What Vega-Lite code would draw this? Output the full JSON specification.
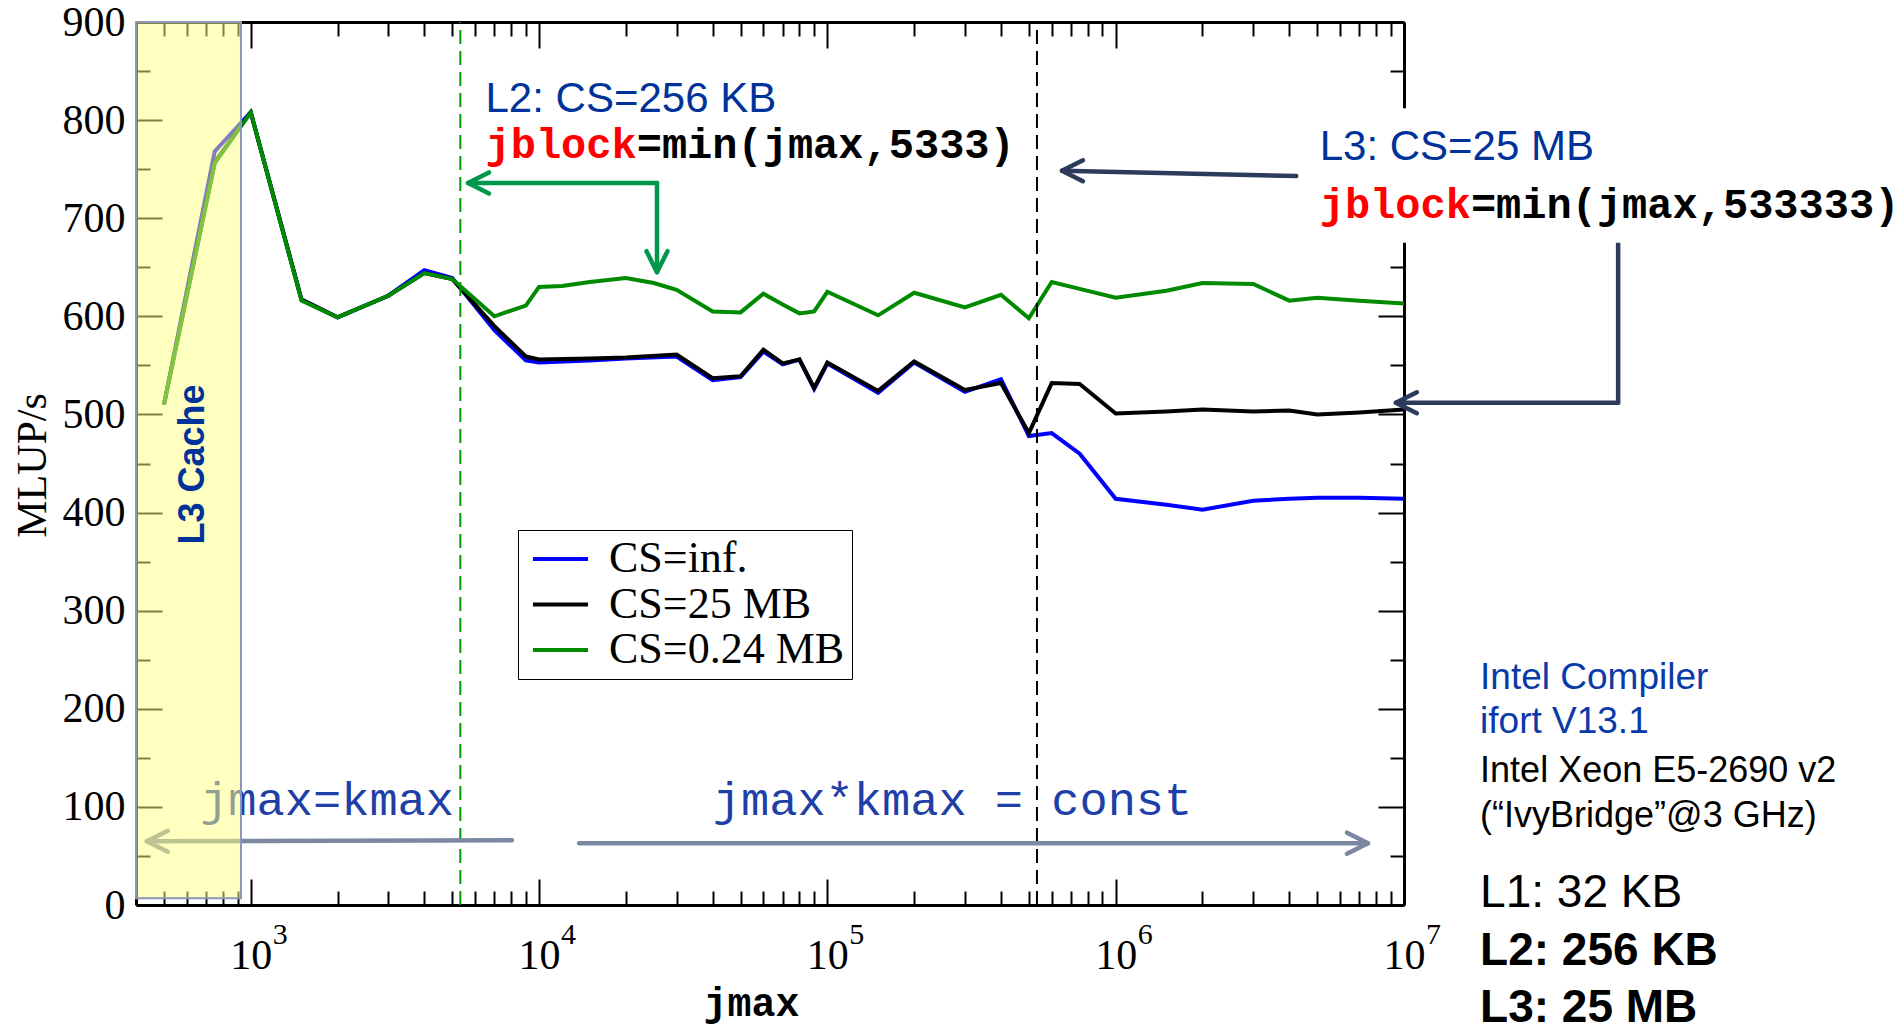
{
  "$schema": "https://vega.github.io/schema/vega-lite/v6.json",
  "width": 1268,
  "height": 883,
  "autosize": {"type": "none"},
  "padding": {"left": 136, "top": 22, "right": 499, "bottom": 127},
  "background": "white",
  "config": {"view": {"stroke": null}, "axis": {"grid": false}},
  "datasets": {
    "perf": [
      {"series": "CS=inf.", "jmax": 500, "mlups": 510},
      {"series": "CS=inf.", "jmax": 750, "mlups": 768},
      {"series": "CS=inf.", "jmax": 1000, "mlups": 808},
      {"series": "CS=inf.", "jmax": 1500, "mlups": 617},
      {"series": "CS=inf.", "jmax": 2000, "mlups": 599},
      {"series": "CS=inf.", "jmax": 3000, "mlups": 621},
      {"series": "CS=inf.", "jmax": 4000, "mlups": 647},
      {"series": "CS=inf.", "jmax": 5000, "mlups": 639},
      {"series": "CS=inf.", "jmax": 7000, "mlups": 586},
      {"series": "CS=inf.", "jmax": 9000, "mlups": 555},
      {"series": "CS=inf.", "jmax": 10000, "mlups": 553},
      {"series": "CS=inf.", "jmax": 15000, "mlups": 555},
      {"series": "CS=inf.", "jmax": 20000, "mlups": 557},
      {"series": "CS=inf.", "jmax": 30000, "mlups": 559},
      {"series": "CS=inf.", "jmax": 40000, "mlups": 535},
      {"series": "CS=inf.", "jmax": 50000, "mlups": 538},
      {"series": "CS=inf.", "jmax": 60000, "mlups": 564},
      {"series": "CS=inf.", "jmax": 70000, "mlups": 551},
      {"series": "CS=inf.", "jmax": 80000, "mlups": 556},
      {"series": "CS=inf.", "jmax": 90000, "mlups": 526},
      {"series": "CS=inf.", "jmax": 100000, "mlups": 552},
      {"series": "CS=inf.", "jmax": 150000, "mlups": 522},
      {"series": "CS=inf.", "jmax": 200000, "mlups": 553},
      {"series": "CS=inf.", "jmax": 300000, "mlups": 523},
      {"series": "CS=inf.", "jmax": 400000, "mlups": 536},
      {"series": "CS=inf.", "jmax": 500000, "mlups": 478},
      {"series": "CS=inf.", "jmax": 600000, "mlups": 481},
      {"series": "CS=inf.", "jmax": 750000, "mlups": 460},
      {"series": "CS=inf.", "jmax": 1000000, "mlups": 414},
      {"series": "CS=inf.", "jmax": 1500000, "mlups": 408},
      {"series": "CS=inf.", "jmax": 2000000, "mlups": 403},
      {"series": "CS=inf.", "jmax": 3000000, "mlups": 412},
      {"series": "CS=inf.", "jmax": 4000000, "mlups": 414},
      {"series": "CS=inf.", "jmax": 5000000, "mlups": 415},
      {"series": "CS=inf.", "jmax": 7000000, "mlups": 415},
      {"series": "CS=inf.", "jmax": 10000000, "mlups": 414},
      {"series": "CS=25 MB", "jmax": 500, "mlups": 510},
      {"series": "CS=25 MB", "jmax": 750, "mlups": 757},
      {"series": "CS=25 MB", "jmax": 1000, "mlups": 808},
      {"series": "CS=25 MB", "jmax": 1500, "mlups": 617},
      {"series": "CS=25 MB", "jmax": 2000, "mlups": 599},
      {"series": "CS=25 MB", "jmax": 3000, "mlups": 621},
      {"series": "CS=25 MB", "jmax": 4000, "mlups": 644},
      {"series": "CS=25 MB", "jmax": 5000, "mlups": 638},
      {"series": "CS=25 MB", "jmax": 7000, "mlups": 590},
      {"series": "CS=25 MB", "jmax": 9000, "mlups": 559},
      {"series": "CS=25 MB", "jmax": 10000, "mlups": 556},
      {"series": "CS=25 MB", "jmax": 15000, "mlups": 557},
      {"series": "CS=25 MB", "jmax": 20000, "mlups": 558},
      {"series": "CS=25 MB", "jmax": 30000, "mlups": 561},
      {"series": "CS=25 MB", "jmax": 40000, "mlups": 537},
      {"series": "CS=25 MB", "jmax": 50000, "mlups": 539},
      {"series": "CS=25 MB", "jmax": 60000, "mlups": 566},
      {"series": "CS=25 MB", "jmax": 70000, "mlups": 552},
      {"series": "CS=25 MB", "jmax": 80000, "mlups": 556},
      {"series": "CS=25 MB", "jmax": 90000, "mlups": 527},
      {"series": "CS=25 MB", "jmax": 100000, "mlups": 553},
      {"series": "CS=25 MB", "jmax": 150000, "mlups": 524},
      {"series": "CS=25 MB", "jmax": 200000, "mlups": 554},
      {"series": "CS=25 MB", "jmax": 300000, "mlups": 525},
      {"series": "CS=25 MB", "jmax": 400000, "mlups": 532},
      {"series": "CS=25 MB", "jmax": 500000, "mlups": 481},
      {"series": "CS=25 MB", "jmax": 600000, "mlups": 532},
      {"series": "CS=25 MB", "jmax": 750000, "mlups": 531},
      {"series": "CS=25 MB", "jmax": 1000000, "mlups": 501},
      {"series": "CS=25 MB", "jmax": 1500000, "mlups": 503},
      {"series": "CS=25 MB", "jmax": 2000000, "mlups": 505},
      {"series": "CS=25 MB", "jmax": 3000000, "mlups": 503},
      {"series": "CS=25 MB", "jmax": 4000000, "mlups": 504},
      {"series": "CS=25 MB", "jmax": 5000000, "mlups": 500},
      {"series": "CS=25 MB", "jmax": 7000000, "mlups": 502},
      {"series": "CS=25 MB", "jmax": 10000000, "mlups": 505},
      {"series": "CS=0.24 MB", "jmax": 500, "mlups": 510},
      {"series": "CS=0.24 MB", "jmax": 750, "mlups": 756},
      {"series": "CS=0.24 MB", "jmax": 1000, "mlups": 808},
      {"series": "CS=0.24 MB", "jmax": 1500, "mlups": 616},
      {"series": "CS=0.24 MB", "jmax": 2000, "mlups": 599},
      {"series": "CS=0.24 MB", "jmax": 3000, "mlups": 621},
      {"series": "CS=0.24 MB", "jmax": 4000, "mlups": 644},
      {"series": "CS=0.24 MB", "jmax": 5000, "mlups": 638},
      {"series": "CS=0.24 MB", "jmax": 7000, "mlups": 600},
      {"series": "CS=0.24 MB", "jmax": 9000, "mlups": 611},
      {"series": "CS=0.24 MB", "jmax": 10000, "mlups": 630},
      {"series": "CS=0.24 MB", "jmax": 12000, "mlups": 631},
      {"series": "CS=0.24 MB", "jmax": 15000, "mlups": 635},
      {"series": "CS=0.24 MB", "jmax": 20000, "mlups": 639},
      {"series": "CS=0.24 MB", "jmax": 25000, "mlups": 634},
      {"series": "CS=0.24 MB", "jmax": 30000, "mlups": 627},
      {"series": "CS=0.24 MB", "jmax": 40000, "mlups": 605},
      {"series": "CS=0.24 MB", "jmax": 50000, "mlups": 604},
      {"series": "CS=0.24 MB", "jmax": 60000, "mlups": 623},
      {"series": "CS=0.24 MB", "jmax": 70000, "mlups": 612},
      {"series": "CS=0.24 MB", "jmax": 80000, "mlups": 603},
      {"series": "CS=0.24 MB", "jmax": 90000, "mlups": 605},
      {"series": "CS=0.24 MB", "jmax": 100000, "mlups": 625},
      {"series": "CS=0.24 MB", "jmax": 150000, "mlups": 601},
      {"series": "CS=0.24 MB", "jmax": 200000, "mlups": 624},
      {"series": "CS=0.24 MB", "jmax": 300000, "mlups": 609},
      {"series": "CS=0.24 MB", "jmax": 400000, "mlups": 622},
      {"series": "CS=0.24 MB", "jmax": 500000, "mlups": 598},
      {"series": "CS=0.24 MB", "jmax": 600000, "mlups": 635},
      {"series": "CS=0.24 MB", "jmax": 750000, "mlups": 628},
      {"series": "CS=0.24 MB", "jmax": 1000000, "mlups": 619},
      {"series": "CS=0.24 MB", "jmax": 1500000, "mlups": 626},
      {"series": "CS=0.24 MB", "jmax": 2000000, "mlups": 634},
      {"series": "CS=0.24 MB", "jmax": 3000000, "mlups": 633},
      {"series": "CS=0.24 MB", "jmax": 4000000, "mlups": 616},
      {"series": "CS=0.24 MB", "jmax": 5000000, "mlups": 619},
      {"series": "CS=0.24 MB", "jmax": 7000000, "mlups": 616},
      {"series": "CS=0.24 MB", "jmax": 10000000, "mlups": 613}
    ],
    "blocks": [
      {"cache": "L2", "jmax": 5333, "lo": 0, "hi": 900},
      {"cache": "L3", "jmax": 533333, "lo": 0, "hi": 900}
    ],
    "band": [
      {"jmax": 400, "jmax_end": 925, "mlups": 7, "mlups_end": 900}
    ],
    "notebox": [
      {"jmax": 4800000, "jmax_end": 100000000, "mlups": 675, "mlups_end": 812}
    ],
    "exponents": [
      {"jmax": 1000, "mlups": -40, "exp": "3"},
      {"jmax": 10000, "mlups": -40, "exp": "4"},
      {"jmax": 100000, "mlups": -40, "exp": "5"},
      {"jmax": 1000000, "mlups": -40, "exp": "6"},
      {"jmax": 10000000, "mlups": -40, "exp": "7"}
    ],
    "arrows": [
      {"group": "span", "jmax": 436, "jmax_end": 8050, "mlups": 65, "mlups_end": 66},
      {"group": "span", "jmax": 13770, "jmax_end": 7500000, "mlups": 63, "mlups_end": 63},
      {"group": "l2", "jmax": 5670, "jmax_end": 25650, "mlups": 736, "mlups_end": 736},
      {"group": "l2", "jmax": 25650, "jmax_end": 25650, "mlups": 736, "mlups_end": 645},
      {"group": "l3", "jmax": 4230000, "jmax_end": 651000, "mlups": 743, "mlups_end": 748.4},
      {"group": "l3", "jmax": 55300000, "jmax_end": 55300000, "mlups": 674.7, "mlups_end": 511.9},
      {"group": "l3", "jmax": 55300000, "jmax_end": 9370000, "mlups": 511.9, "mlups_end": 511.9}
    ],
    "heads": [
      {"group": "span", "dir": "left", "jmax": 436, "mlups": 65},
      {"group": "span", "dir": "right", "jmax": 7500000, "mlups": 63},
      {"group": "l2", "dir": "left", "jmax": 5670, "mlups": 736},
      {"group": "l2", "dir": "down", "jmax": 25650, "mlups": 645},
      {"group": "l3", "dir": "left", "jmax": 651000, "mlups": 748.4},
      {"group": "l3", "dir": "left", "jmax": 9370000, "mlups": 511.9}
    ],
    "notes": [
      {"role": "level", "text": "L2: CS=256 KB", "jmax": 6520, "mlups": 808.6},
      {"role": "level", "text": "L3: CS=25 MB", "jmax": 5100000, "mlups": 759.3},
      {"role": "key", "text": "jblock", "jmax": 6520, "mlups": 761},
      {"role": "key", "text": "jblock", "jmax": 5100000, "mlups": 700},
      {"role": "rest", "text": "=min(jmax,5333)", "jmax": 6520, "mlups": 761},
      {"role": "rest", "text": "=min(jmax,533333)", "jmax": 5100000, "mlups": 700},
      {"role": "band", "text": "L3 Cache", "jmax": 690, "mlups": 449},
      {"role": "regime", "text": "jmax=kmax", "jmax": 1840, "mlups": 92},
      {"role": "regime", "text": "jmax*kmax = const", "jmax": 271700, "mlups": 92},
      {"role": "compiler", "text": "Intel Compiler", "jmax": 18360000, "mlups": 219.7},
      {"role": "compiler", "text": "ifort V13.1", "jmax": 18360000, "mlups": 174.9},
      {"role": "cpu", "text": "Intel Xeon E5-2690 v2", "jmax": 18360000, "mlups": 125.6},
      {"role": "cpu", "text": "(“IvyBridge”@3 GHz)", "jmax": 18360000, "mlups": 79.7},
      {"role": "l1", "text": "L1: 32 KB", "jmax": 18360000, "mlups": -2.5},
      {"role": "l23", "text": "L2: 256 KB", "jmax": 18360000, "mlups": -61.3},
      {"role": "l23", "text": "L3: 25 MB", "jmax": 18360000, "mlups": -119}
    ]
  },
  "layer": [
    {
      "data": {"name": "perf"},
      "mark": {"type": "line", "strokeWidth": 4},
      "encoding": {
        "x": {"field": "jmax", "type": "quantitative", "scale": {"type": "log", "domain": [400, 10000000], "nice": false},
          "axis": {"orient": "bottom", "values": [1000, 10000, 100000, 1000000, 10000000],
            "labelExpr": "'10'",
            "tickSize": -26, "tickWidth": 2, "tickColor": "#000000", "domain": true, "domainColor": "#000000", "domainWidth": 3, "grid": false,
            "labelFont": "Liberation Serif", "labelFontSize": 42, "labelColor": "#000000", "labelPadding": 56, "labelFlush": false, "labelOverlap": false,
            "title": "jmax", "titleFont": "Liberation Mono", "titleFontSize": 40, "titleFontWeight": "bold", "titleColor": "#000000",
            "titleX": 615, "titleY": 110, "titleBaseline": "alphabetic"}},
        "y": {"field": "mlups", "type": "quantitative", "scale": {"domain": [0, 900], "nice": false, "zero": false},
          "axis": {"orient": "left", "values": [0, 100, 200, 300, 400, 500, 600, 700, 800, 900],
            "tickSize": -26, "tickWidth": 2, "tickColor": "#000000", "domain": true, "domainColor": "#000000", "domainWidth": 3, "grid": false,
            "labelFont": "Liberation Serif", "labelFontSize": 42, "labelColor": "#000000", "labelPadding": 37, "labelOverlap": false,
            "title": "MLUP/s", "titleFont": "Liberation Serif", "titleFontSize": 42, "titleFontWeight": "normal", "titleColor": "#000000",
            "titleAngle": 270, "titleX": -91, "titleY": 443, "titleBaseline": "alphabetic", "titleAlign": "center"}},
        "color": {"field": "series", "type": "nominal",
          "scale": {"domain": ["CS=inf.", "CS=25 MB", "CS=0.24 MB"], "range": ["#0000ff", "#000000", "#008a00"]},
          "legend": {"title": null, "orient": "none", "legendX": 382, "legendY": 508,
            "symbolType": "M-1.45,0L1.45,0", "symbolSize": 1444, "symbolStrokeWidth": 4, "symbolOffset": 13.5,
            "labelFont": "Liberation Serif", "labelFontSize": 44, "labelColor": "#000000", "labelOffset": 26.5, "labelLimit": 500,
            "rowPadding": 1.5, "padding": 7, "strokeColor": "#000000", "fillColor": "#ffffff", "cornerRadius": 0}}
      }
    },
    {
      "data": {"name": "blocks"},
      "transform": [{"filter": "datum.cache == 'L2'"}],
      "mark": {"type": "rule", "color": "#009a00", "strokeWidth": 2, "strokeDash": [14, 7]},
      "encoding": {
        "x": {"field": "jmax", "type": "quantitative", "scale": {"type": "log", "domain": [400, 10000000], "nice": false},
          "axis": {"orient": "bottom", "values": [500, 600, 700, 800, 900, 2000, 3000, 4000, 5000, 6000, 7000, 8000, 9000, 20000, 30000, 40000, 50000, 60000, 70000, 80000, 90000, 200000, 300000, 400000, 500000, 600000, 700000, 800000, 900000, 2000000, 3000000, 4000000, 5000000, 6000000, 7000000, 8000000, 9000000],
            "tickSize": -14, "tickWidth": 2, "tickColor": "#000000", "labels": false, "domain": false, "grid": false, "title": null}},
        "y": {"field": "lo", "type": "quantitative", "scale": {"domain": [0, 900], "nice": false, "zero": false},
          "axis": {"orient": "left", "values": [50, 150, 250, 350, 450, 550, 650, 750, 850],
            "tickSize": -14, "tickWidth": 2, "tickColor": "#000000", "labels": false, "domain": false, "grid": false, "title": null}},
        "y2": {"field": "hi"}
      }
    },
    {
      "data": {"name": "blocks"},
      "transform": [{"filter": "datum.cache == 'L3'"}],
      "mark": {"type": "rule", "color": "#000000", "strokeWidth": 2, "strokeDash": [14, 7]},
      "encoding": {
        "x": {"field": "jmax", "type": "quantitative", "scale": {"type": "log", "domain": [400, 10000000], "nice": false}, "axis": null},
        "y": {"field": "lo", "type": "quantitative", "scale": {"domain": [0, 900], "nice": false, "zero": false}, "axis": null},
        "y2": {"field": "hi"}
      }
    },
    {
      "data": {"name": "exponents"},
      "mark": {"type": "text", "font": "Liberation Serif", "fontSize": 30, "fill": "#000000", "align": "left", "baseline": "alphabetic", "dx": 22},
      "encoding": {
        "x": {"field": "jmax", "type": "quantitative", "scale": {"type": "log", "domain": [400, 10000000], "nice": false}, "axis": null},
        "y": {"field": "mlups", "type": "quantitative", "scale": {"domain": [0, 900], "nice": false, "zero": false}, "axis": null},
        "text": {"field": "exp"}
      }
    },
    {
      "data": {"name": "notes"},
      "transform": [{"filter": "datum.role == 'regime'"}],
      "mark": {"type": "text", "font": "Liberation Mono", "fontSize": 47, "fill": "#1f3fa8", "align": "center", "baseline": "alphabetic"},
      "encoding": {
        "x": {"field": "jmax", "type": "quantitative", "scale": {"type": "log", "domain": [400, 10000000], "nice": false}, "axis": null},
        "y": {"field": "mlups", "type": "quantitative", "scale": {"domain": [0, 900], "nice": false, "zero": false}, "axis": null},
        "text": {"field": "text"}
      }
    },
    {
      "data": {"name": "arrows"},
      "mark": {"type": "rule", "strokeWidth": 4.5, "strokeCap": "round"},
      "encoding": {
        "x": {"field": "jmax", "type": "quantitative", "scale": {"type": "log", "domain": [400, 10000000], "nice": false},
          "axis": {"orient": "top", "values": [500, 600, 700, 800, 900, 2000, 3000, 4000, 5000, 6000, 7000, 8000, 9000, 20000, 30000, 40000, 50000, 60000, 70000, 80000, 90000, 200000, 300000, 400000, 500000, 600000, 700000, 800000, 900000, 2000000, 3000000, 4000000, 5000000, 6000000, 7000000, 8000000, 9000000],
            "tickSize": -14, "tickWidth": 2, "tickColor": "#000000", "labels": false, "domain": false, "grid": false, "title": null}},
        "x2": {"field": "jmax_end"},
        "y": {"field": "mlups", "type": "quantitative", "scale": {"domain": [0, 900], "nice": false, "zero": false},
          "axis": {"orient": "right", "values": [50, 150, 250, 350, 450, 550, 650, 750, 850],
            "tickSize": -14, "tickWidth": 2, "tickColor": "#000000", "labels": false, "domain": false, "grid": false, "title": null}},
        "y2": {"field": "mlups_end"},
        "stroke": {"field": "group", "type": "nominal", "scale": {"domain": ["span", "l2", "l3"], "range": ["#7b87a3", "#00964b", "#2c3a5c"]}, "legend": null}
      }
    },
    {
      "data": {"name": "heads"},
      "mark": {"type": "point", "filled": false, "size": 441, "strokeWidth": 4.5, "strokeCap": "round", "strokeJoin": "round", "opacity": 1},
      "encoding": {
        "x": {"field": "jmax", "type": "quantitative", "scale": {"type": "log", "domain": [400, 10000000], "nice": false}, "axis": null},
        "y": {"field": "mlups", "type": "quantitative", "scale": {"domain": [0, 900], "nice": false, "zero": false}, "axis": null},
        "shape": {"field": "dir", "type": "nominal", "scale": {"domain": ["left", "right", "down"], "range": ["M2,-1L0,0L2,1", "M-2,-1L0,0L-2,1", "M-1,-2L0,0L1,-2"]}, "legend": null},
        "stroke": {"field": "group", "type": "nominal", "scale": {"domain": ["span", "l2", "l3"], "range": ["#7b87a3", "#00964b", "#2c3a5c"]}, "legend": null}
      }
    },
    {
      "data": {"name": "band"},
      "mark": {"type": "rect", "fill": "#ffff80", "fillOpacity": 0.5, "stroke": "#8b97b8", "strokeWidth": 2},
      "encoding": {
        "x": {"field": "jmax", "type": "quantitative", "scale": {"type": "log", "domain": [400, 10000000], "nice": false},
          "axis": {"orient": "top", "values": [1000, 10000, 100000, 1000000, 10000000],
            "tickSize": -26, "tickWidth": 2, "tickColor": "#000000", "labels": false, "domain": true, "domainColor": "#000000", "domainWidth": 3, "grid": false, "title": null}},
        "x2": {"field": "jmax_end"},
        "y": {"field": "mlups", "type": "quantitative", "scale": {"domain": [0, 900], "nice": false, "zero": false},
          "axis": {"orient": "right", "values": [0, 100, 200, 300, 400, 500, 600, 700, 800, 900],
            "tickSize": -26, "tickWidth": 2, "tickColor": "#000000", "labels": false, "domain": true, "domainColor": "#000000", "domainWidth": 3, "grid": false, "title": null}},
        "y2": {"field": "mlups_end"}
      }
    },
    {
      "data": {"name": "notebox"},
      "mark": {"type": "rect", "fill": "#ffffff", "stroke": null},
      "encoding": {
        "x": {"field": "jmax", "type": "quantitative", "scale": {"type": "log", "domain": [400, 10000000], "nice": false}, "axis": null},
        "x2": {"field": "jmax_end"},
        "y": {"field": "mlups", "type": "quantitative", "scale": {"domain": [0, 900], "nice": false, "zero": false}, "axis": null},
        "y2": {"field": "mlups_end"}
      }
    },
    {
      "data": {"name": "notes"},
      "transform": [{"filter": "datum.role == 'band'"}],
      "mark": {"type": "text", "font": "Liberation Sans", "fontSize": 36, "fontWeight": "bold", "fill": "#003399", "align": "center", "baseline": "alphabetic", "angle": 270},
      "encoding": {
        "x": {"field": "jmax", "type": "quantitative", "scale": {"type": "log", "domain": [400, 10000000], "nice": false}, "axis": null},
        "y": {"field": "mlups", "type": "quantitative", "scale": {"domain": [0, 900], "nice": false, "zero": false}, "axis": null},
        "text": {"field": "text"}
      }
    },
    {
      "data": {"name": "notes"},
      "transform": [{"filter": "datum.role == 'level'"}],
      "mark": {"type": "text", "font": "Liberation Sans", "fontSize": 42, "fill": "#003399", "align": "left", "baseline": "alphabetic"},
      "encoding": {
        "x": {"field": "jmax", "type": "quantitative", "scale": {"type": "log", "domain": [400, 10000000], "nice": false}, "axis": null},
        "y": {"field": "mlups", "type": "quantitative", "scale": {"domain": [0, 900], "nice": false, "zero": false}, "axis": null},
        "text": {"field": "text"}
      }
    },
    {
      "data": {"name": "notes"},
      "transform": [{"filter": "datum.role == 'key'"}],
      "mark": {"type": "text", "font": "Liberation Mono", "fontSize": 42, "fontWeight": "bold", "fill": "#ff0000", "align": "left", "baseline": "alphabetic"},
      "encoding": {
        "x": {"field": "jmax", "type": "quantitative", "scale": {"type": "log", "domain": [400, 10000000], "nice": false}, "axis": null},
        "y": {"field": "mlups", "type": "quantitative", "scale": {"domain": [0, 900], "nice": false, "zero": false}, "axis": null},
        "text": {"field": "text"}
      }
    },
    {
      "data": {"name": "notes"},
      "transform": [{"filter": "datum.role == 'rest'"}],
      "mark": {"type": "text", "font": "Liberation Mono", "fontSize": 42, "fontWeight": "bold", "fill": "#000000", "align": "left", "baseline": "alphabetic", "dx": 151.2},
      "encoding": {
        "x": {"field": "jmax", "type": "quantitative", "scale": {"type": "log", "domain": [400, 10000000], "nice": false}, "axis": null},
        "y": {"field": "mlups", "type": "quantitative", "scale": {"domain": [0, 900], "nice": false, "zero": false}, "axis": null},
        "text": {"field": "text"}
      }
    },
    {
      "data": {"name": "notes"},
      "transform": [{"filter": "datum.role == 'compiler'"}],
      "mark": {"type": "text", "font": "Liberation Sans", "fontSize": 37, "fill": "#0a3aa8", "align": "left", "baseline": "alphabetic"},
      "encoding": {
        "x": {"field": "jmax", "type": "quantitative", "scale": {"type": "log", "domain": [400, 10000000], "nice": false}, "axis": null},
        "y": {"field": "mlups", "type": "quantitative", "scale": {"domain": [0, 900], "nice": false, "zero": false}, "axis": null},
        "text": {"field": "text"}
      }
    },
    {
      "data": {"name": "notes"},
      "transform": [{"filter": "datum.role == 'cpu'"}],
      "mark": {"type": "text", "font": "Liberation Sans", "fontSize": 36, "fill": "#000000", "align": "left", "baseline": "alphabetic"},
      "encoding": {
        "x": {"field": "jmax", "type": "quantitative", "scale": {"type": "log", "domain": [400, 10000000], "nice": false}, "axis": null},
        "y": {"field": "mlups", "type": "quantitative", "scale": {"domain": [0, 900], "nice": false, "zero": false}, "axis": null},
        "text": {"field": "text"}
      }
    },
    {
      "data": {"name": "notes"},
      "transform": [{"filter": "datum.role == 'l1'"}],
      "mark": {"type": "text", "font": "Liberation Sans", "fontSize": 46, "fill": "#000000", "align": "left", "baseline": "alphabetic"},
      "encoding": {
        "x": {"field": "jmax", "type": "quantitative", "scale": {"type": "log", "domain": [400, 10000000], "nice": false}, "axis": null},
        "y": {"field": "mlups", "type": "quantitative", "scale": {"domain": [0, 900], "nice": false, "zero": false}, "axis": null},
        "text": {"field": "text"}
      }
    },
    {
      "data": {"name": "notes"},
      "transform": [{"filter": "datum.role == 'l23'"}],
      "mark": {"type": "text", "font": "Liberation Sans", "fontSize": 46, "fontWeight": "bold", "fill": "#000000", "align": "left", "baseline": "alphabetic"},
      "encoding": {
        "x": {"field": "jmax", "type": "quantitative", "scale": {"type": "log", "domain": [400, 10000000], "nice": false}, "axis": null},
        "y": {"field": "mlups", "type": "quantitative", "scale": {"domain": [0, 900], "nice": false, "zero": false}, "axis": null},
        "text": {"field": "text"}
      }
    }
  ],
  "resolve": {"axis": {"x": "independent", "y": "independent"}}
}
